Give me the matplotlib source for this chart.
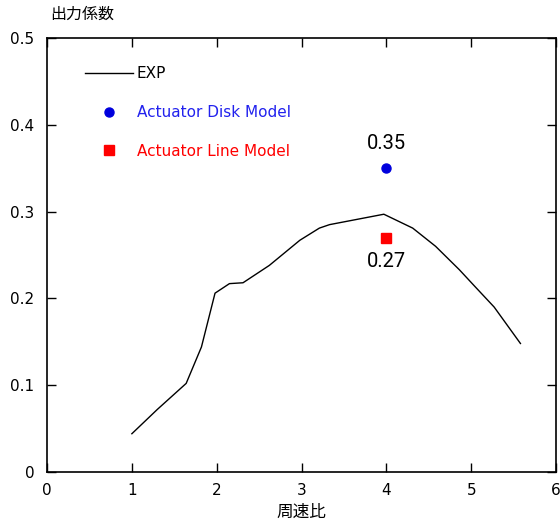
import matplotlib.pyplot as plt
from matplotlib.lines import Line2D

plt.rcParams['font.family'] = ['DejaVu Sans', 'Noto Sans CJK JP']

# EXP curve
tsr = [1.0, 1.3, 1.64, 1.82, 1.98, 2.15, 2.31, 2.62, 2.98, 3.21, 3.33, 3.97,
       4.31, 4.58, 4.86, 5.05, 5.27, 5.58]
cp = [0.044, 0.072, 0.102, 0.144, 0.206, 0.217, 0.218, 0.238, 0.267, 0.281,
      0.285, 0.297, 0.281, 0.260, 0.233, 0.213, 0.190, 0.148]

disk_x, disk_y = 4, 0.35
line_x, line_y = 4, 0.27

fig = plt.figure(figsize=(5.6, 5.22), dpi=100)
ax = fig.add_axes([0.084, 0.096, 0.909, 0.831])

ax.plot(tsr, cp, color="black", lw=1)
ax.plot(disk_x, disk_y, "o", color="#0000dd", ms=6.5)
ax.plot(line_x, line_y, "s", color="red", ms=6.5)

ax.text(disk_x, 0.379, "0.35", ha="center", va="center", fontsize=14.5, family="Roboto")
ax.text(line_x, 0.242, "0.27", ha="center", va="center", fontsize=14.5, family="Roboto")

ax.set_xlim(0, 6)
ax.set_ylim(0, 0.5)
ax.set_xticks(range(7))
ax.set_yticks([0, 0.1, 0.2, 0.3, 0.4, 0.5])
ax.set_yticklabels(["0", "0.1", "0.2", "0.3", "0.4", "0.5"])
ax.tick_params(direction="in", top=True, right=True, length=6.5, width=1, labelsize=11)
ax.tick_params(axis="x", pad=8)
ax.tick_params(axis="y", pad=9)
for s in ax.spines.values():
    s.set_linewidth(1.2)

fig.text(0.089, 0.973, "出力係数", fontsize=11.5, family="Noto Sans CJK JP", ha="left", va="center")
ax.set_xlabel("周速比", fontsize=12, family="Noto Sans CJK JP", labelpad=4)

handles = [Line2D([], [], color="black", lw=1),
           Line2D([], [], marker="o", ls="", color="#0000dd", ms=6.5),
           Line2D([], [], marker="s", ls="", color="red", ms=6.5)]
labels = ["EXP", "Actuator Disk Model", "Actuator Line Model"]
ax.legend(handles, labels, loc="upper left", bbox_to_anchor=(0.063, 0.949),
          frameon=False, fontsize=11, handlelength=3.1, handletextpad=0.26,
          labelspacing=1.55, numpoints=1, borderaxespad=0,
          labelcolor=["black", "#2222ee", "red"])

fig.savefig("out.png")
